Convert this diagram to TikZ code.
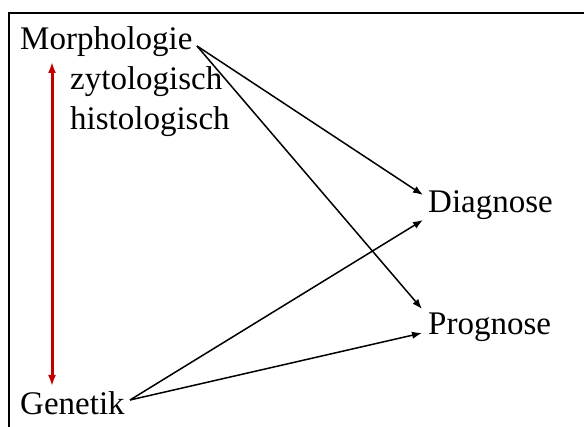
\documentclass[tikz,border=0pt]{standalone}
\usepackage{fontspec}
\setmainfont{Liberation Serif}
\usetikzlibrary{arrows.meta}
\definecolor{darkred}{RGB}{192,0,0}
\tikzset{
  lbl/.style={anchor=base west, inner sep=0pt, font=\fontsize{33}{36}\selectfont},
  conn/.style={line width=1.5pt, -{Latex[length=10pt,width=7.5pt]}},
  redconn/.style={darkred, line width=3pt, {Latex[length=11pt,width=8pt]}-{Latex[length=11pt,width=8pt]}}
}
\begin{document}
\begin{tikzpicture}[x=1pt,y=-1pt]
\useasboundingbox (0,0) rectangle (584,427);
\draw[line width=2pt] (9,427) -- (9,13) -- (584,13);
\node[lbl] (morph) at (20,50) {Morphologie};
\node[lbl] (zyto) at (70,90) {zytologisch};
\node[lbl] (histo) at (70,130) {histologisch};
\node[lbl] (gen) at (20,415) {Genetik};
\node[lbl] (diag) at (428,213) {Diagnose};
\node[lbl] (prog) at (428,335) {Prognose};
\coordinate (ms) at (197,46);
\coordinate (gs) at (130,400);
\coordinate (d1) at (423,195);
\coordinate (d2) at (423,220);
\coordinate (p1) at (422,309);
\coordinate (p2) at (422,333);
\coordinate (rt) at (52,62);
\coordinate (rb) at (52,386);
\draw[conn] (ms) -- (d1);
\draw[conn] (ms) -- (p1);
\draw[conn] (gs) -- (d2);
\draw[conn] (gs) -- (p2);
\draw[redconn] (rt) -- (rb);
\end{tikzpicture}
\end{document}
